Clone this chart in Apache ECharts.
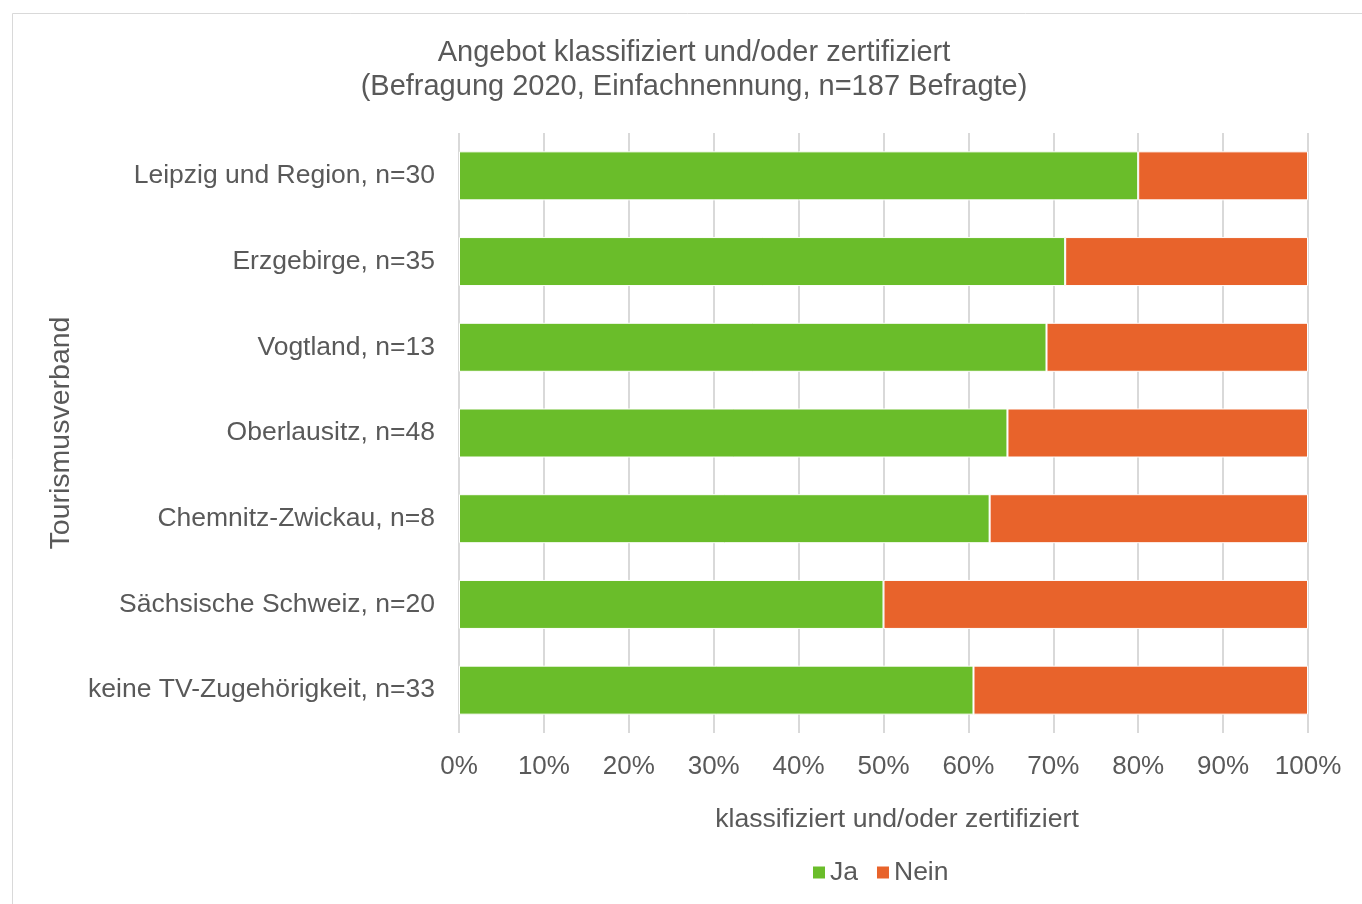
<!DOCTYPE html>
<html>
<head>
<meta charset="utf-8">
<script src="https://cdn.jsdelivr.net/npm/echarts@6/dist/echarts.min.js"></script>
<style>
  html, body { margin: 0; padding: 0; background: #fff; }
  #chart { width: 1362px; height: 904px; }
</style>
</head>
<body>
<div id="chart"></div>
<script>
// Tourism associations (top to bottom)
const categories = [
  'Leipzig und Region, n=30',
  'Erzgebirge, n=35',
  'Vogtland, n=13',
  'Oberlausitz, n=48',
  'Chemnitz-Zwickau, n=8',
  'Sächsische Schweiz, n=20',
  'keine TV-Zugehörigkeit, n=33'
];
// Share of respondents (percent)
const jaValues   = [80.0, 71.4, 69.2, 64.6, 62.5, 50.0, 60.6];
const neinValues = [20.0, 28.6, 30.8, 35.4, 37.5, 50.0, 39.4];
const tickLabels = ['0%', '10%', '20%', '30%', '40%', '50%', '60%', '70%', '80%', '90%', '100%'];

const textColor = '#595959';
const fontFamily = 'Liberation Sans, Arial, sans-serif';
const fontSize = 26;

const chart = echarts.init(document.getElementById('chart'), null, { renderer: 'canvas' });

chart.setOption({
  animation: false,
  backgroundColor: '#fff',
  textStyle: { fontFamily: fontFamily, color: textColor },
  graphic: [{
    type: 'rect',
    shape: { x: 12.5, y: 13.5, width: 1400, height: 1000 },
    style: { fill: 'none', stroke: '#d9d9d9', lineWidth: 1 },
    silent: true,
    z: -10
  }],
  title: {
    text: 'Angebot klassifiziert und/oder zertifiziert\n(Befragung 2020, Einfachnennung, n=187 Befragte)',
    left: 689,
    top: 31,
    textAlign: 'center',
    textStyle: {
      fontFamily: fontFamily,
      fontSize: 29,
      fontWeight: 'normal',
      color: textColor,
      lineHeight: 34
    }
  },
  legend: {
    data: ['Ja', 'Nein'],
    left: 811,
    top: 859,
    padding: [0, 0, 0, 0],
    itemWidth: 14,
    itemHeight: 14,
    itemGap: 17,
    icon: 'rect',
    textStyle: { fontFamily: fontFamily, fontSize: 26.5, color: textColor, padding: [0, 0, 0, -1] }
  },
  grid: {
    left: 459,
    right: 54,
    top: 133,
    bottom: 904 - 733,
    containLabel: false
  },
  xAxis: {
    type: 'value',
    min: 0,
    max: 100,
    interval: 10,
    name: 'klassifiziert und/oder zertifiziert',
    nameLocation: 'middle',
    nameGap: 73,
    nameTextStyle: { fontFamily: fontFamily, fontSize: 26.6, color: textColor, padding: [0, 0, 0, 27] },
    axisLine: { show: false },
    axisTick: { show: false },
    axisLabel: {
      margin: 21,
      fontFamily: fontFamily,
      fontSize: fontSize,
      color: textColor,
      formatter: function (v) { return tickLabels[Math.round(v / 10)]; }
    },
    splitLine: { show: true, lineStyle: { color: '#d9d9d9', width: 2 } }
  },
  yAxis: {
    type: 'category',
    data: categories,
    inverse: true,
    name: 'Tourismusverband',
    nameLocation: 'middle',
    nameGap: 383,
    nameRotate: 90,
    nameTextStyle: { fontFamily: fontFamily, fontSize: 28.5, color: textColor },
    axisLine: { show: false },
    axisTick: { show: false },
    axisLabel: {
      margin: 24,
      fontFamily: fontFamily,
      fontSize: 26.5,
      color: textColor,
      padding: [2, 0, 0, 0]
    },
    splitLine: { show: false }
  },
  series: [
    {
      name: 'Ja',
      type: 'bar',
      stack: 'total',
      barWidth: 49,
      data: jaValues,
      itemStyle: { color: '#6abd2a', borderColor: '#ffffff', borderWidth: 1 }
    },
    {
      name: 'Nein',
      type: 'bar',
      stack: 'total',
      barWidth: 49,
      data: neinValues,
      itemStyle: { color: '#e8632b', borderColor: '#ffffff', borderWidth: 1 }
    }
  ]
});
</script>
</body>
</html>
